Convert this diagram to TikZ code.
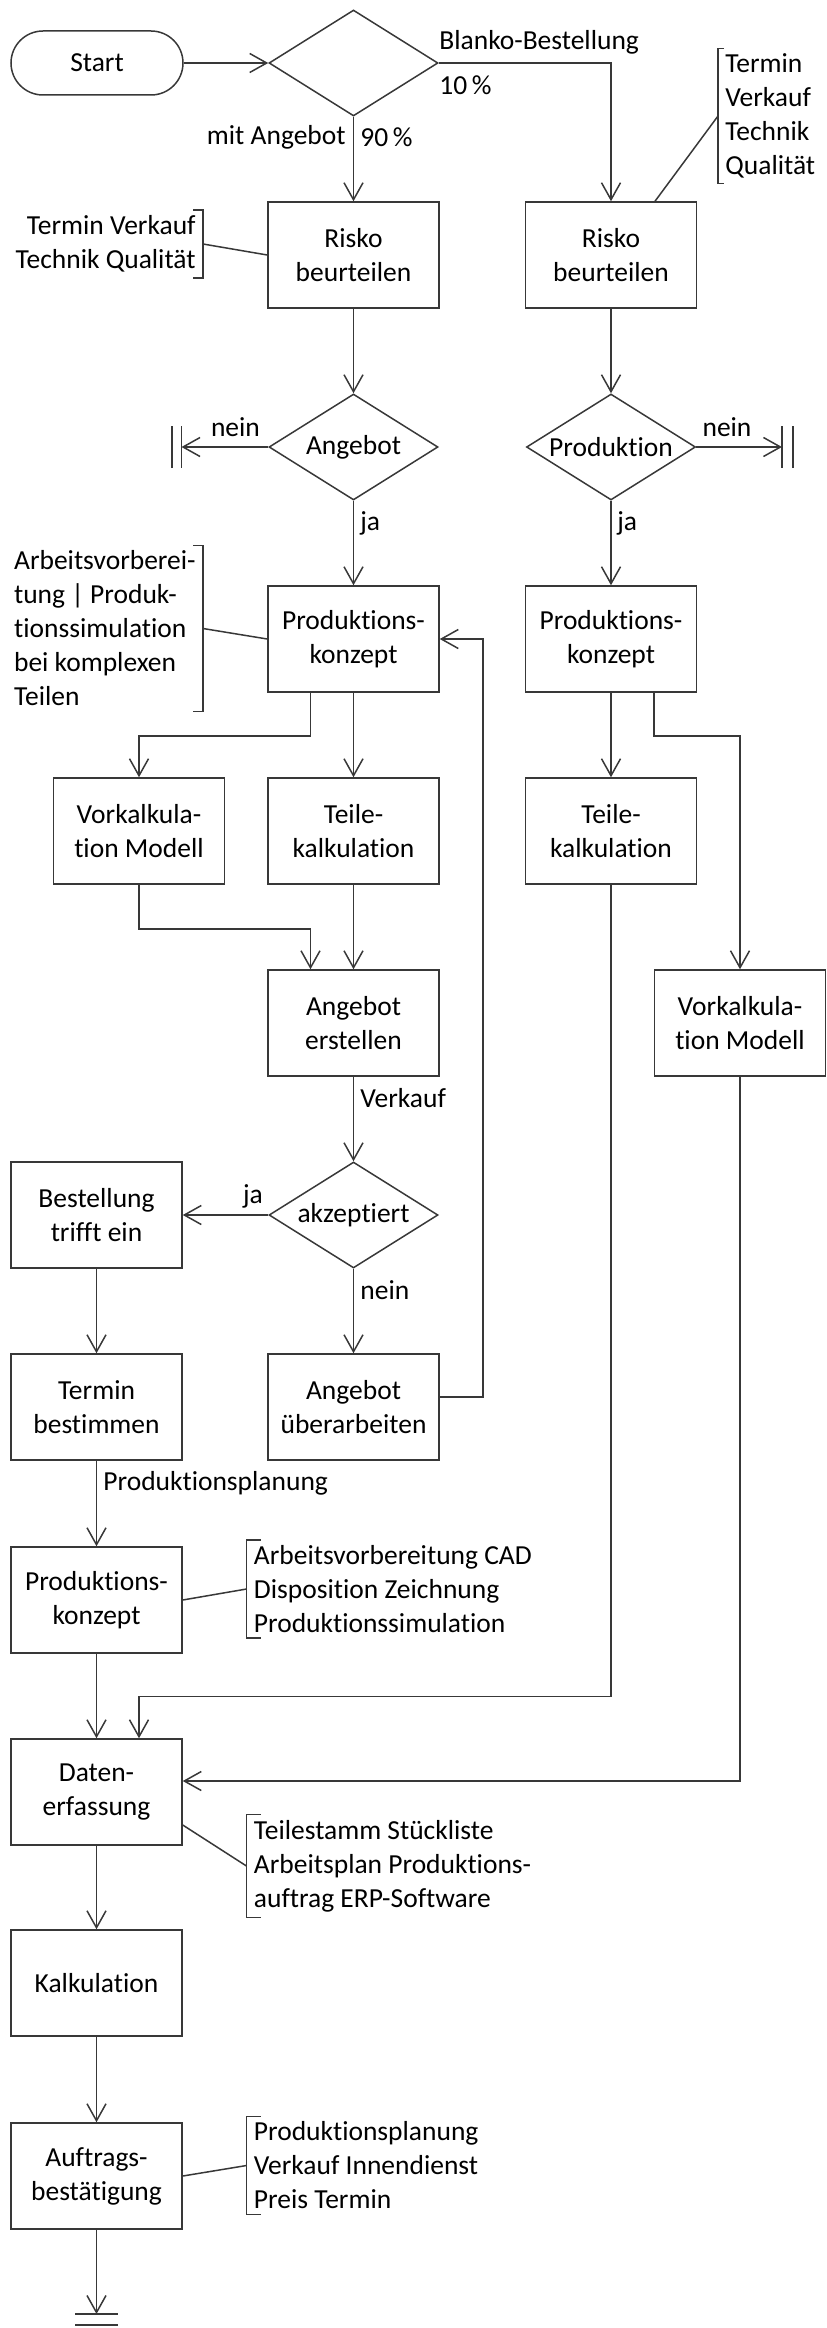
\documentclass[tikz,border=0pt]{standalone}
\usepackage{fontspec}
\setmainfont[Ligatures=NoCommon]{Carlito}
\usetikzlibrary{shapes.geometric,arrows.meta,calc}
\definecolor{linegray}{RGB}{56,56,56}

\begin{document}
\begin{tikzpicture}[
    x=0.5pt, y=-0.5pt,
    font=\fontsize{13.75}{17}\selectfont,
    line/.style={draw=linegray, line width=0.75pt},
    box/.style={rectangle, line, minimum width=85.5pt, minimum height=53pt, align=center, inner sep=2pt},
    decision/.style={diamond, line, aspect=1.6, minimum width=84.5pt, minimum height=53pt, inner sep=0pt, align=center},
    terminal/.style={rectangle, rounded corners=16pt, line, minimum width=86pt, minimum height=32pt},
    note/.style={inner xsep=3.5pt, inner ysep=2.5pt},
    lbl/.style={inner sep=0pt},
    >={Straight Barb[length=8.5pt,width=9.5pt]}
]
\useasboundingbox (0,0) rectangle (826,2328);

% Start and first decision
\node[terminal] (start) at (97,63) {Start};
\node[decision] (d1) at (353.5,63) {};

% Risk assessment
\node[box] (risk1) at (353.5,255) {Risko\\beurteilen};
\node[box] (risk2) at (611,255) {Risko\\beurteilen};
\node[decision] (angebot) at (353.5,447) {Angebot};
\node[decision] (produktion) at (611,447) {Produktion};
\coordinate (endL) at (181.5,447);
\coordinate (endR) at (782,447);

% Production concept and calculation
\node[box] (pk1) at (353.5,639) {Produktions-\\konzept};
\node[box] (pk2) at (611,639) {Produktions-\\konzept};
\node[box] (vk1) at (139,831) {Vorkalkula-\\tion Modell};
\node[box] (tk1) at (353.5,831) {Teile-\\kalkulation};
\node[box] (tk2) at (611,831) {Teile-\\kalkulation};
\node[box] (ae) at (353.5,1023) {Angebot\\erstellen};
\node[box] (vk2) at (740,1023) {Vorkalkula-\\tion Modell};

% Offer accepted?
\node[decision] (akz) at (353.5,1215) {akzeptiert};
\node[box] (best) at (96.5,1215) {Bestellung\\trifft ein};
\node[box] (ueb) at (353.5,1407) {Angebot\\überarbeiten};
\node[box] (termin) at (96.5,1407) {Termin\\bestimmen};

% Order processing
\node[box] (pk3) at (96.5,1600) {Produktions-\\konzept};
\node[box] (daten) at (96.5,1792) {Daten-\\erfassung};
\node[box] (kalk) at (96.5,1983) {Kalkulation};
\node[box] (auftrag) at (96.5,2176) {Auftrags-\\bestätigung};
\coordinate (endB) at (96.5,2314);

% Notes
\node[note, align=right, anchor=east] (n1) at (203,244) {Termin Verkauf\\Technik Qualität};
\node[note, align=left, anchor=west] (n2) at (718,116) {Termin\\Verkauf\\Technik\\Qualität};
\node[note, align=left, anchor=east] (n3) at (203,628.5) {Arbeitsvorberei-\\tung | Produk-\\tionssimulation\\bei komplexen\\Teilen};
\node[note, align=left, anchor=west] (n4) at (246.5,1589) {Arbeitsvorbereitung CAD\\Disposition Zeichnung\\Produktionssimulation};
\node[note, align=left, anchor=west] (n5) at (246.5,1866) {Teilestamm Stückliste\\Arbeitsplan Produktions-\\auftrag ERP-Software};
\node[note, align=left, anchor=west] (n6) at (246.5,2165.5) {Produktionsplanung\\Verkauf Innendienst\\Preis Termin};

\foreach \n in {n1,n3} {
    \draw[line] ([xshift=-5pt]\n.north east) -- (\n.north east) -- (\n.south east) -- ([xshift=-5pt]\n.south east);
}
\foreach \n/\t in {n2/3,n4/7,n5/7,n6/7} {
    \draw[line] ([xshift=\t pt]\n.north west) -- (\n.north west) -- (\n.south west) -- ([xshift=\t pt]\n.south west);
}

% Labels
\node[lbl, anchor=west] (lblanko) at (439,42) {Blanko-Bestellung};
\node[lbl, anchor=west] (lzehn) at (439,85) {10\,\%};
\node[lbl, anchor=east] (lmit) at (346,137) {mit Angebot};
\node[lbl, anchor=west] (lneunzig) at (360,137) {90\,\%};
\node[lbl] (lneinL) at (235.5,427) {nein};
\node[lbl] (lneinR) at (727,427) {nein};
\node[lbl, anchor=west] (ljaL) at (360,523) {ja};
\node[lbl, anchor=west] (ljaR) at (617,523) {ja};
\node[lbl, anchor=west] (lverkauf) at (360,1098) {Verkauf};
\node[lbl] (ljaA) at (253,1196) {ja};
\node[lbl, anchor=west] (lneinA) at (360,1290) {nein};
\node[lbl, anchor=west] (lplanung) at (103,1483) {Produktionsplanung};

% Connections
\draw[line,->] (start) -- (d1);
\draw[line,->] (d1) -- (risk1);
\draw[line,->] (d1.east) -| (risk2.north);
\draw[line,->] (risk1) -- (angebot);
\draw[line,->] (risk2) -- (produktion);
\draw[line,->] (angebot.west) -- (endL);
\draw[line,->] (produktion.east) -- (endR);
\draw[line,->] (angebot) -- (pk1);
\draw[line,->] (produktion) -- (pk2);
\draw[line,->] ($(pk1.south)+(-43,0)$) -- ++(0,43) -| (vk1.north);
\draw[line,->] (pk1) -- (tk1);
\draw[line,->] (pk2) -- (tk2);
\draw[line,->] ($(pk2.south)+(43,0)$) -- ++(0,43) -| (vk2.north);
\draw[line,->] (vk1.south) -- ++(0,44) -| ($(ae.north)+(-43,0)$);
\draw[line,->] (tk1) -- (ae);
\draw[line,->] (ae) -- (akz);
\draw[line,->] (akz.west) -- (best.east);
\draw[line,->] (akz) -- (ueb);
\draw[line,->] ([yshift=5pt]ueb.east) -- ++(43,0) |- (pk1.east);
\draw[line,->] (best) -- (termin);
\draw[line,->] (termin) -- (pk3);
\draw[line,->] (pk3) -- (daten);
\draw[line,->] (tk2.south) |- ($(daten.north)+(42.5,-42)$) -- ($(daten.north)+(42.5,0)$);
\draw[line,->] (vk2.south) |- ([yshift=5.5pt]daten.east);
\draw[line,->] (daten) -- (kalk);
\draw[line,->] (kalk) -- (auftrag);
\draw[line,->] (auftrag) -- (endB);

% End bars
\draw[line] (endL) ++(0,-21) -- ++(0,42) ++(-9.5,0) -- ++(0,-42);
\draw[line] (endR) ++(0,-21) -- ++(0,42) ++(11,0) -- ++(0,-42);
\draw[line] (endB) ++(-21.5,0) -- ++(43,0) ++(0,11) -- ++(-43,0);

% Note connections
\draw[line] (n1.east) -- (risk1.west);
\draw[line] (n2.west) -- ($(risk2.north)+(44,0)$);
\draw[line] (n3.east) -- (pk1.west);
\draw[line] (pk3.east) -- (n4.west);
\draw[line] ([yshift=-16.5pt]daten.east) -- (n5.west);
\draw[line] (auftrag.east) -- (n6.west);

\end{tikzpicture}
\end{document}
